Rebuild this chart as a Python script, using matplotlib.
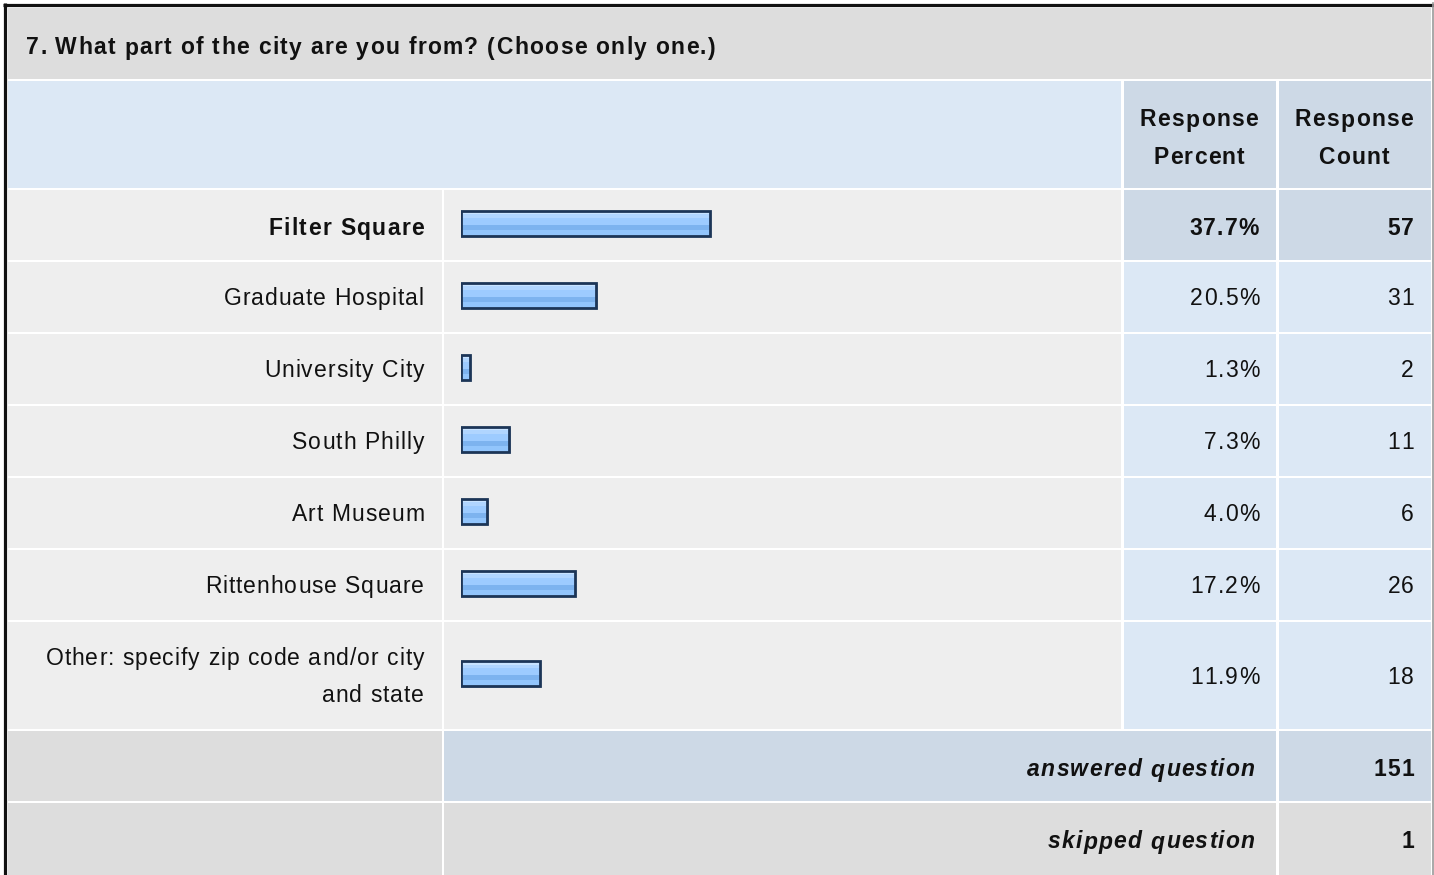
import matplotlib
matplotlib.use("Agg")
import matplotlib.pyplot as plt
from matplotlib.patches import Rectangle
from matplotlib.font_manager import FontProperties, findfont, get_font

plt.rcParams['font.family'] = ['Liberation Sans', 'DejaVu Sans']

# data
title = "7. What part of the city are you from? (Choose only one.)"
categories = ["Filter Square", "Graduate Hospital", "University City", "South Philly",
              "Art Museum", "Rittenhouse Square", "Other: specify zip code and/or city\nand state"]
percents = [37.7, 20.5, 1.3, 7.3, 4.0, 17.2, 11.9]
counts = [57, 31, 2, 11, 6, 26, 18]
header_cols = ["Response\nPercent", "Response\nCount"]
answered = 151
skipped = 1
highlight = 0

W, H = 1434, 875
fig = plt.figure(figsize=(W / 100, H / 100), dpi=100)
ax = fig.add_axes([0, 0, 1, 1])
ax.set_xlim(0, W)
ax.set_ylim(H, 0)
ax.axis('off')

GRAY = '#dddddd'
LIGHT = '#eeeeee'
BLUE = '#dce8f5'
BLUE2 = '#cdd9e6'
FS = 16.5

# column edges
c_lab = (8, 441.5)
c_bar = (444, 1121)
c_pct = (1124, 1276)
c_cnt = (1279, 1431)

def cell(x, y, c):
    ax.add_patch(Rectangle((x[0], y[0]), x[1] - x[0], y[1] - y[0], color=c, lw=0))

def txt(x, yc, s, ha, weight='normal', style='normal'):
    # letter-spaced text, baseline set so capitals sit centred on yc
    track = 1.3 if weight == 'bold' else 1.0
    fp = FontProperties(family='Liberation Sans', weight=weight, style=style, size=FS)
    font = get_font(findfont(fp))
    font.set_size(FS, 100)
    adv = [font.load_char(ord(ch)).linearHoriAdvance / 65536 for ch in s]
    total = sum(adv) + track * (len(s) - 1)
    x0 = {'left': x, 'right': x - total, 'center': x - total / 2}[ha]
    for ch, a in zip(s, adv):
        if ch != ' ':
            ax.text(x0, yc + 8.5, ch, ha='left', va='baseline', fontproperties=fp, color='#111111')
        x0 += a + track

# outer border
ax.plot([3, W], [4.5, 4.5], color='#111111', lw=2.3, solid_capstyle='butt')
ax.plot([4.5, 4.5], [3, H], color='#111111', lw=2.3, solid_capstyle='butt')
ax.plot([1432.5, 1432.5], [3, H], color='#999999', lw=1.2)

# title row
cell((8, 1431), (8, 78.5), GRAY)
txt(26, 46, title, 'left', weight='bold')

# header row
cell((8, 1121), (81, 188), BLUE)
cell(c_pct, (81, 188), BLUE2)
cell(c_cnt, (81, 188), BLUE2)
for cx, h in zip([(c_pct[0] + c_pct[1]) / 2, (c_cnt[0] + c_cnt[1]) / 2], header_cols):
    for k, line in enumerate(h.split("\n")):
        txt(cx - 1, 118 + 38 * k, line, 'center', weight='bold')

# data rows
row_tops = [190, 262, 334, 406, 478, 550, 622]
row_bots = [259.5, 331.5, 403.5, 475.5, 547.5, 619.5, 728.5]
centers = [(a + b) / 2 for a, b in zip(row_tops, row_bots)]

for i, (cat, p, n) in enumerate(zip(categories, percents, counts)):
    yr = (row_tops[i], row_bots[i])
    cell(c_lab, yr, LIGHT)
    cell(c_bar, yr, LIGHT)
    vc = BLUE2 if i == highlight else BLUE
    cell(c_pct, yr, vc)
    cell(c_cnt, yr, vc)
    fw = 'bold' if i == highlight else 'normal'
    yc = centers[i] + (2 if i == highlight else 0)
    lines = cat.split("\n")
    y0 = yc - 18.5 * (len(lines) - 1)
    for k, line in enumerate(lines):
        txt(424, y0 + 37 * k, line, 'right', weight=fw)
    txt(1259, yc, f"{p:.1f}%", 'right', weight=fw)
    txt(1414, yc, f"{n}", 'right', weight=fw)

# summary rows
cell(c_lab, (731, 800.5), GRAY)
cell((c_bar[0], c_pct[1]), (731, 800.5), BLUE2)
cell(c_cnt, (731, 800.5), BLUE2)
txt(1255, 768, "answered question", 'right', weight='bold', style='italic')
txt(1414, 768, str(answered), 'right', weight='bold')

cell(c_lab, (803, H + 5), GRAY)
cell((c_bar[0], c_pct[1]), (803, H + 5), GRAY)
cell(c_cnt, (803, H + 5), GRAY)
txt(1255, 840, "skipped question", 'right', weight='bold', style='italic')
txt(1414, 840, str(skipped), 'right', weight='bold')

# bars in their own axes: x in percent, y in pixel rows
bx = fig.add_axes([461 / W, 1 - 728.5 / H, 660 / W, (728.5 - 190) / H])
bx.set_xlim(0, 100)
bx.set_ylim(728.5, 190)
bx.axis('off')
bx.patch.set_alpha(0)

bh = 25
ys = [c - 1.5 for c in centers]
stripes = [(0.00, 0.14, '#c8e3ff'), (0.14, 0.28, '#b0d5ff'), (0.28, 0.56, '#9dcbff'),
           (0.56, 0.76, '#7db3ef'), (0.76, 1.00, '#92c5fc')]
# soft shadow
bx.barh([y + 1.5 for y in ys], percents, height=bh, left=0.25, color='#9aa3ad', alpha=0.6, lw=0)
for a, b, c in stripes:
    bx.barh([y - bh / 2 + bh * (a + b) / 2 for y in ys], percents, height=bh * (b - a),
            color=c, lw=0)
bx.barh(ys, percents, height=bh, fill=False, edgecolor='#1c3557', lw=2.0)

fig.savefig("out.png", dpi=100)
